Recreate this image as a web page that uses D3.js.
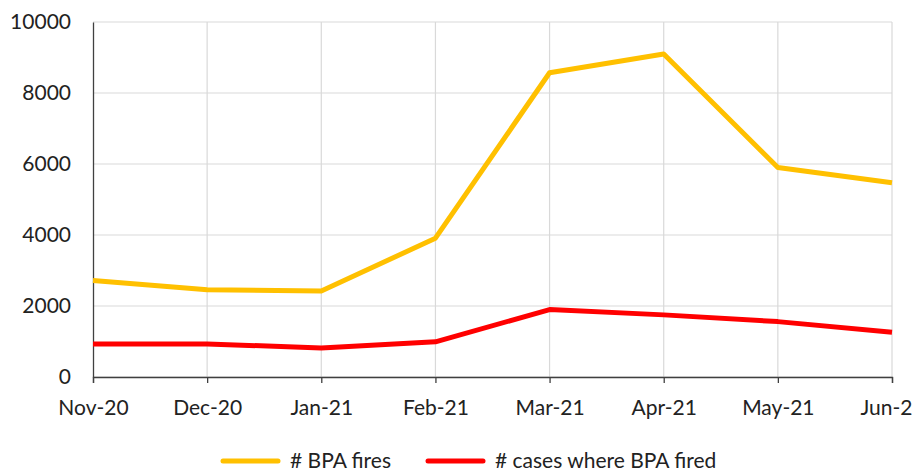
<!DOCTYPE html>
<html>
<head>
<meta charset="utf-8">
<script src="https://cdn.jsdelivr.net/npm/d3@7"></script>
<style>
  body { margin: 0; background: #fff; }
  svg { display: block; font-family: Lato, "Open Sans", sans-serif; }
</style>
</head>
<body>
<svg id="chart" width="912" height="471"></svg>
<script>
// data
var months = ["Nov-20", "Dec-20", "Jan-21", "Feb-21", "Mar-21", "Apr-21", "May-21", "Jun-21"];
var bpaFires = [2720, 2460, 2420, 3910, 8570, 9100, 5900, 5470];
var casesFired = [930, 930, 820, 990, 1900, 1750, 1560, 1260];
var yTicks = [0, 2000, 4000, 6000, 8000, 10000];
var seriesNames = ["# BPA fires", "# cases where BPA fired"];
var seriesColors = ["#FFC000", "#FF0000"];

var svg = d3.select("#chart");
var plotLeft = 93, plotRight = 892, plotTop = 22, plotBottom = 377;

var x = d3.scalePoint().domain(months).range([plotLeft, plotRight]);
var y = d3.scaleLinear().domain([0, 10000]).range([plotBottom, plotTop]);

// grid lines
svg.append("g")
  .selectAll("line")
  .data(yTicks)
  .enter()
  .append("line")
  .attr("x1", plotLeft).attr("x2", plotRight)
  .attr("y1", function(d) { return y(d); })
  .attr("y2", function(d) { return y(d); })
  .attr("stroke", "#d9d9d9").attr("stroke-width", 1.2);

svg.append("g")
  .selectAll("line")
  .data(months.slice(1))
  .enter()
  .append("line")
  .attr("x1", function(d) { return x(d); })
  .attr("x2", function(d) { return x(d); })
  .attr("y1", plotTop).attr("y2", plotBottom)
  .attr("stroke", "#d9d9d9").attr("stroke-width", 1.2);

// y axis
var yAxis = svg.append("g")
  .attr("transform", "translate(" + plotLeft + ",0)")
  .call(d3.axisLeft(y).tickValues(yTicks).tickFormat(d3.format("d")).tickSize(0).tickPadding(22));
yAxis.select(".domain").attr("stroke", "#404040").attr("stroke-width", 1.3);
yAxis.selectAll("text").attr("font-size", 21).attr("fill", "#222").attr("font-family", "Lato");

// x axis
var xAxis = svg.append("g")
  .attr("transform", "translate(0," + plotBottom + ")")
  .call(d3.axisBottom(x).tickSize(6).tickPadding(17));
xAxis.select(".domain").attr("stroke", "#404040").attr("stroke-width", 1.3);
xAxis.selectAll(".tick line").attr("stroke", "#404040").attr("stroke-width", 1.3);
xAxis.selectAll("text").attr("font-size", 21).attr("fill", "#222").attr("font-family", "Lato");

// lines
var line = d3.line()
  .x(function(d, i) { return x(months[i]); })
  .y(function(d) { return y(d); });

[bpaFires, casesFired].forEach(function(s, i) {
  svg.append("path")
    .datum(s)
    .attr("d", line)
    .attr("fill", "none")
    .attr("stroke", seriesColors[i])
    .attr("stroke-width", 5)
    .attr("stroke-linejoin", "round");
});

// legend
var legendX = [223, 428];
var legend = svg.append("g")
  .selectAll("g")
  .data(seriesNames)
  .enter()
  .append("g")
  .attr("transform", function(d, i) { return "translate(" + legendX[i] + ",461)"; });

legend.append("line")
  .attr("x1", 0).attr("x2", 55)
  .attr("stroke", function(d, i) { return seriesColors[i]; })
  .attr("stroke-width", 5)
  .attr("stroke-linecap", "round");

legend.append("text")
  .attr("x", 67)
  .attr("dy", "0.35em")
  .attr("font-size", 21)
  .attr("fill", "#222")
  .text(function(d) { return d; });
</script>
</body>
</html>
